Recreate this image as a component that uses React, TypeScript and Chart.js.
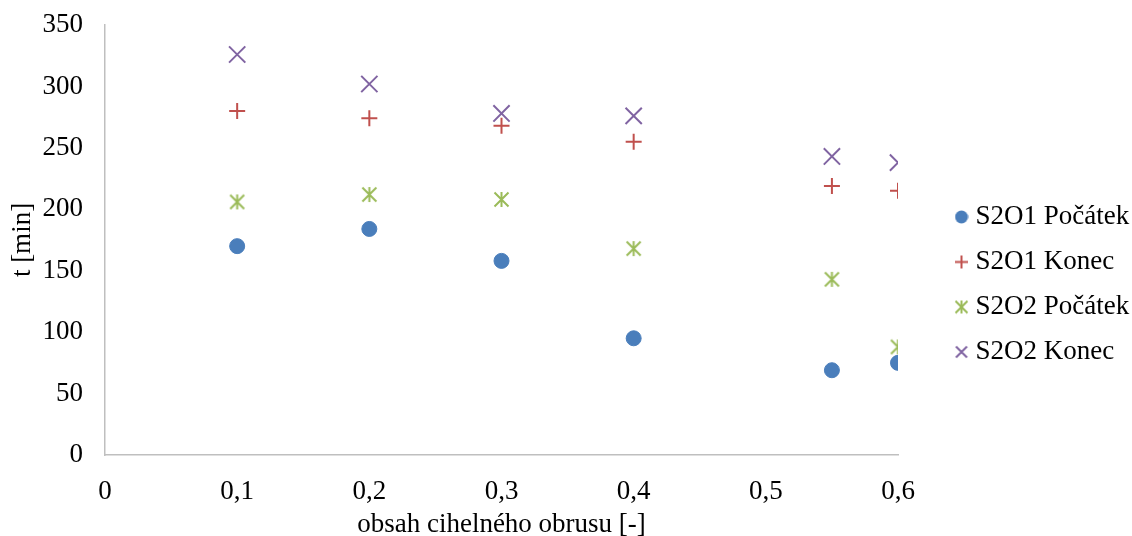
import React, { useEffect, useRef } from "react";
import { Chart, registerables } from "chart.js";

Chart.register(...registerables);

const xValues = [0.1, 0.2, 0.3, 0.4, 0.55, 0.6];
const s2o1Pocatek = [170, 184, 158, 95, 69, 75];
const s2o1Konec = [280, 274, 268, 255, 219, 215];
const s2o2Pocatek = [206, 212, 208, 168, 143, 88];
const s2o2Konec = [326, 302, 278, 276, 243, 238];
const seriesNames = ["S2O1 Počátek", "S2O1 Konec", "S2O2 Počátek", "S2O2 Konec"];

const FONT = "'Liberation Serif', 'Times New Roman', serif";
const FS = 27;
const COLORS = ["#4A7EBB", "#C0504D", "#9BBB59", "#8064A2"];

function toPoints(ys: number[]) {
  return xValues.map((x, i) => ({ x, y: ys[i] }));
}

function makeMarker(kind: string, color: string, size: number) {
  const c = document.createElement("canvas");
  c.width = size;
  c.height = size;
  const ctx = c.getContext("2d")!;
  ctx.strokeStyle = color;
  ctx.fillStyle = color;
  ctx.lineWidth = 2;
  const h = size / 2;
  const m = 1;
  ctx.beginPath();
  if (kind === "circle") {
    ctx.arc(h, h, h - 0.5, 0, Math.PI * 2);
    ctx.fill();
    return c;
  }
  if (kind === "plus" || kind === "star") {
    ctx.moveTo(h, m);
    ctx.lineTo(h, size - m);
  }
  if (kind === "plus") {
    ctx.moveTo(m, h);
    ctx.lineTo(size - m, h);
  }
  if (kind === "x" || kind === "star") {
    ctx.moveTo(m + 0.5, m + 0.5);
    ctx.lineTo(size - m - 0.5, size - m - 0.5);
    ctx.moveTo(size - m - 0.5, m + 0.5);
    ctx.lineTo(m + 0.5, size - m - 0.5);
  }
  ctx.stroke();
  return c;
}

const legendFix = {
  id: "legendFix",
  beforeLayout(chart: any) {
    const lg = chart.legend;
    if (lg && !lg.__patched) {
      lg.__patched = true;
      const orig = lg.fit.bind(lg);
      lg.fit = function () {
        orig();
        this.width = chart.width - 898;
      };
    }
  },
  afterLayout(chart: any) {
    const lg = chart.legend;
    if (!lg) return;
    const w = lg.width;
    const pad = lg.options.labels.padding;
    lg.left = 961 - pad;
    lg.right = lg.left + w;
    lg.top += 4;
    lg.bottom += 4;
  },
};

export default function App() {
  const ref = useRef<HTMLCanvasElement | null>(null);

  useEffect(() => {
    document.body.style.margin = "0";
    const canvas = ref.current;
    if (!canvas) return;
    const star = makeMarker("star", COLORS[2], 17);
    const legendMarkers = [
      makeMarker("circle", COLORS[0], 14),
      makeMarker("plus", COLORS[1], 15),
      makeMarker("star", COLORS[2], 15),
      makeMarker("x", COLORS[3], 14),
    ];
    const chart = new Chart(canvas, {
      type: "scatter",
      data: {
        datasets: [
          {
            label: seriesNames[0],
            data: toPoints(s2o1Pocatek),
            pointStyle: "circle",
            pointRadius: 7.5,
            backgroundColor: COLORS[0],
            borderColor: COLORS[0],
            borderWidth: 1,
          },
          {
            label: seriesNames[1],
            data: toPoints(s2o1Konec),
            pointStyle: "cross",
            pointRadius: 8,
            backgroundColor: COLORS[1],
            borderColor: COLORS[1],
            borderWidth: 2,
          },
          {
            label: seriesNames[2],
            data: toPoints(s2o2Pocatek),
            pointStyle: star as any,
            pointRadius: 8,
            backgroundColor: COLORS[2],
            borderColor: COLORS[2],
            borderWidth: 2,
          },
          {
            label: seriesNames[3],
            data: toPoints(s2o2Konec),
            pointStyle: "crossRot",
            pointRadius: 11.5,
            backgroundColor: COLORS[3],
            borderColor: COLORS[3],
            borderWidth: 2,
          },
        ],
      },
      options: {
        animation: false,
        responsive: false,
        maintainAspectRatio: false,
        layout: { padding: { top: 25, right: 0, left: 0, bottom: 0 } },
        plugins: {
          tooltip: { enabled: false },
          legend: {
            position: "right",
            align: "center",
            labels: {
              usePointStyle: true,
              boxWidth: 1,
              boxHeight: 9,
              padding: 18,
              color: "#000",
              font: { family: FONT, size: FS },
              generateLabels: (ch: any) => {
                const items = Chart.defaults.plugins.legend.labels.generateLabels(ch);
                return items.map((it: any, i: number) => ({ ...it, pointStyle: legendMarkers[i] }));
              },
            },
          },
        },
        scales: {
          x: {
            type: "linear",
            min: 0,
            max: 0.6,
            afterFit: (s: any) => {
              s.height = 81;
            },
            ticks: {
              stepSize: 0.1,
              padding: 13,
              color: "#000",
              font: { family: FONT, size: FS },
              callback: (v: any) => String(Math.round(Number(v) * 10) / 10).replace(".", ","),
            },
            grid: { display: false },
            border: { display: true, color: "#BFBFBF", width: 1.5 },
            title: {
              display: true,
              text: "obsah cihelného obrusu [-]",
              color: "#000",
              font: { family: FONT, size: FS },
              padding: { top: 0, bottom: -5 },
            },
          },
          y: {
            min: 0,
            max: 350,
            afterFit: (s: any) => {
              s.width = 105;
              s.paddingTop = 0;
              s.paddingBottom = 0;
            },
            ticks: {
              stepSize: 50,
              padding: 14,
              color: "#000",
              font: { family: FONT, size: FS },
            },
            grid: { display: false },
            border: { display: true, color: "#BFBFBF", width: 1.5 },
            title: {
              display: true,
              text: "t [min]",
              color: "#000",
              font: { family: FONT, size: FS },
              padding: { top: 7, bottom: 0 },
            },
          },
        },
      },
      plugins: [legendFix],
    });
    return () => chart.destroy();
  }, []);

  return <canvas ref={ref} width={1132} height={536} style={{ display: "block" }} />;
}
